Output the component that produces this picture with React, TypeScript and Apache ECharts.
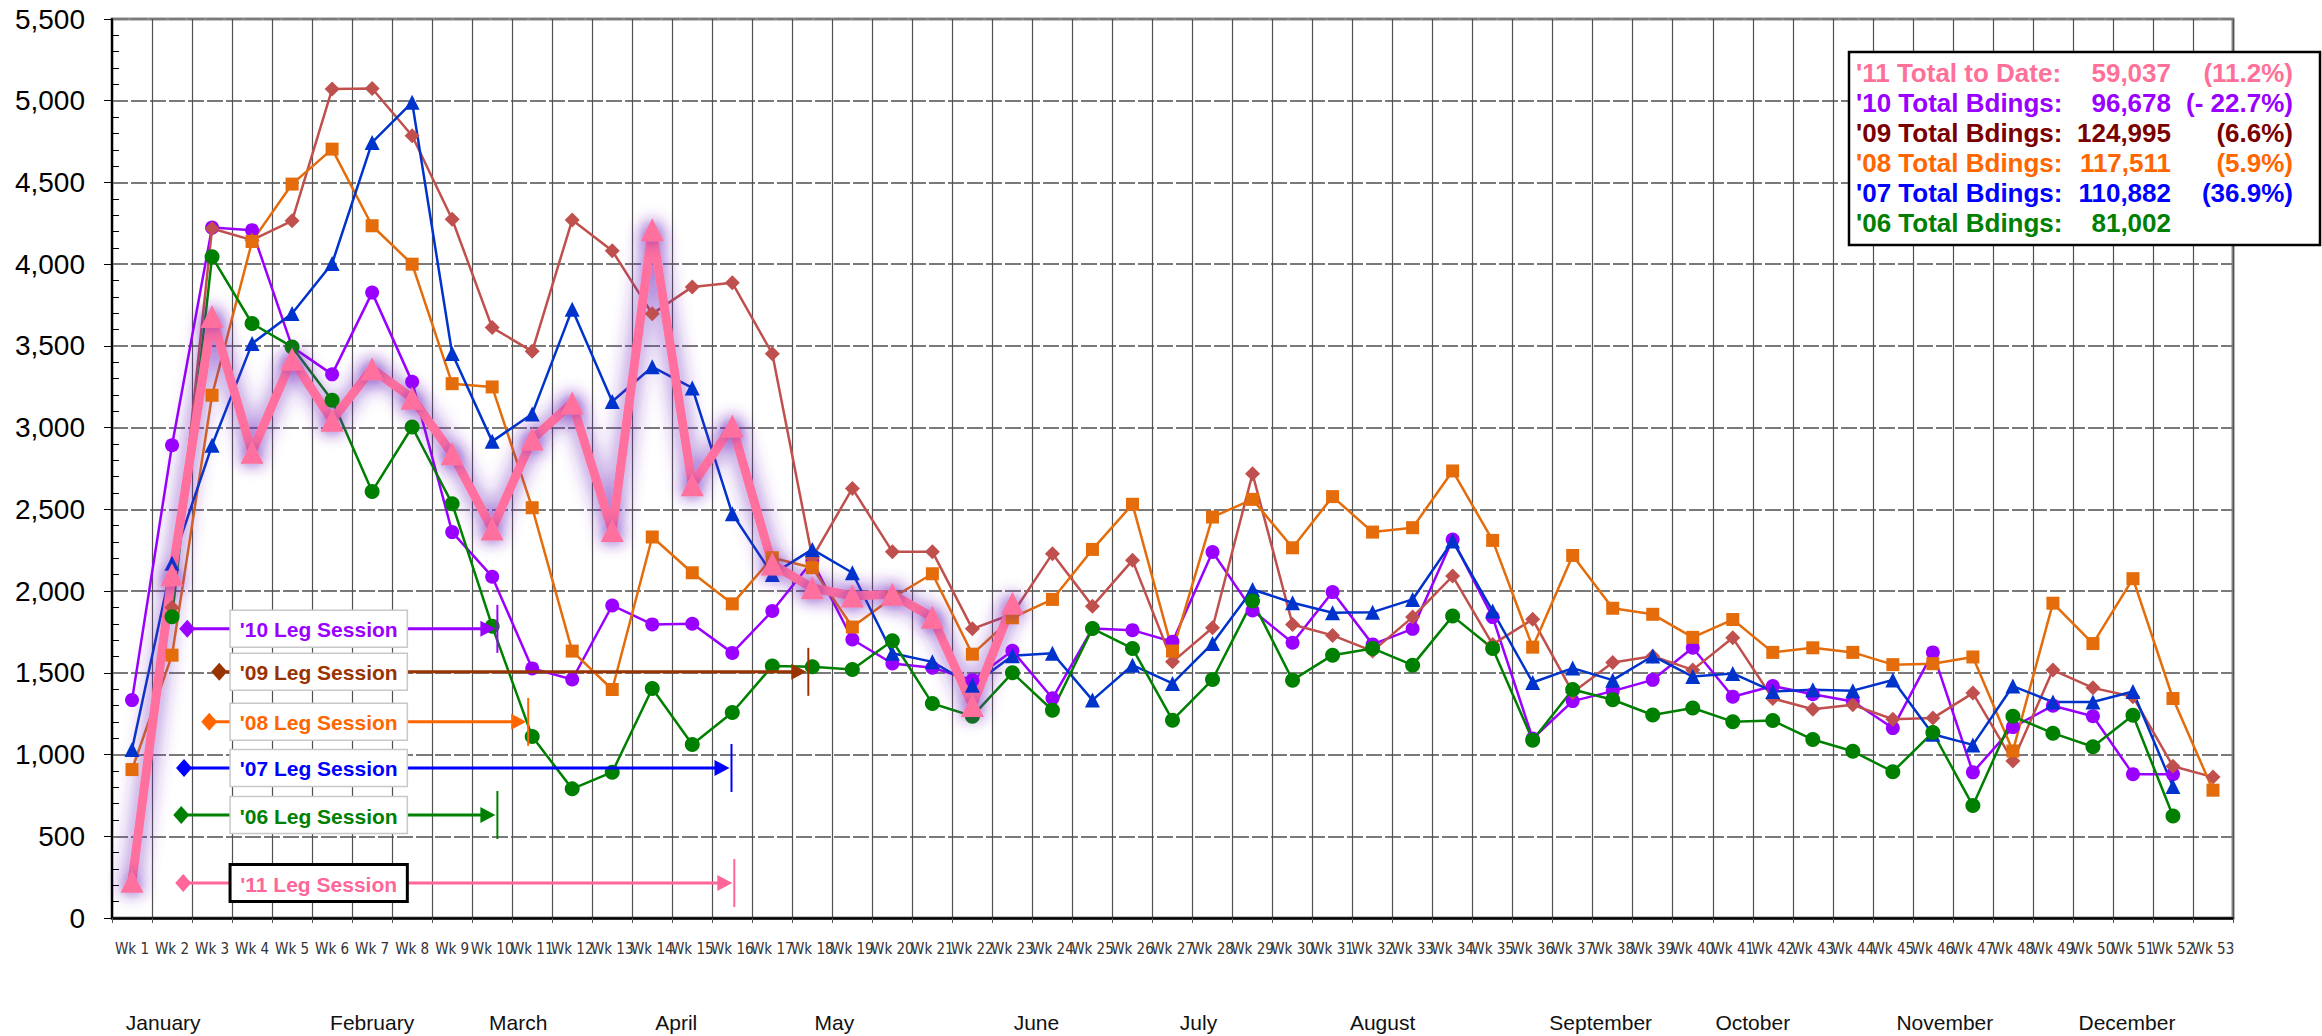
import React, { useEffect, useRef } from "react";
import * as echarts from "echarts";

const weeks: string[] = Array.from({ length: 53 }, (_, i) => `Wk ${i + 1}`);

const s11 = [225, 2100, 3680, 2850, 3420, 3045, 3360, 3180, 2840, 2380, 2930, 3150, 2370, 4210, 2650, 3010, 2165, 2020, 1970, 1980, 1840, 1300, 1925,
  null, null, null, null, null, null, null, null, null, null, null, null, null, null, null, null, null, null, null, null, null, null, null, null, null, null, null, null, null, null];
const s10 = [1333, 2892, 4224, 4208, 3494, 3326, 3826, 3280, 2361, 2088, 1527, 1459, 1912, 1796, 1800, 1622, 1878, 2184, 1704, 1557, 1531, 1455, 1635, 1344, 1771, 1761, 1690, 2239, 1882, 1684, 1994, 1674, 1769, 2316, 1841, 1098, 1327, 1388, 1457, 1653, 1354, 1419, 1369, 1325, 1162, 1625, 891, 1168, 1299, 1234, 880, 880, null];
const s09 = [null, 1900, 4218, 4147, 4265, 5071, 5075, 4786, 4275, 3612, 3467, 4271, 4082, 3696, 3861, 3886, 3452, 2204, 2628, 2241, 2241, 1769, 1860, 2229, 1908, 2188, 1567, 1776, 2718, 1796, 1729, 1633, 1841, 2092, 1674, 1827, 1380, 1563, 1602, 1518, 1714, 1343, 1277, 1304, 1216, 1223, 1376, 961, 1517, 1408, 1354, 928, 862];
const s08 = [908, 1608, 3198, 4139, 4490, 4704, 4235, 4000, 3269, 3249, 2510, 1633, 1398, 2331, 2112, 1922, 2204, 2143, 1780, 1959, 2106, 1614, 1837, 1949, 2255, 2531, 1633, 2453, 2561, 2265, 2578, 2361, 2388, 2735, 2310, 1657, 2218, 1895, 1858, 1717, 1826, 1625, 1653, 1625, 1550, 1556, 1597, 1022, 1926, 1679, 2076, 1343, 782];
const s07 = [1031, 2170, 2892, 3514, 3698, 4004, 4745, 4990, 3453, 2916, 3084, 3725, 3160, 3372, 3243, 2473, 2102, 2255, 2112, 1620, 1567, 1424, 1605, 1620, 1333, 1547, 1435, 1680, 2010, 1929, 1867, 1871, 1949, 2306, 1878, 1441, 1529, 1455, 1603, 1477, 1496, 1386, 1397, 1391, 1456, 1124, 1059, 1419, 1321, 1321, 1386, 804, null];
const s06 = [null, 1843, 4045, 3637, 3494, 3167, 2610, 3004, 2535, 1785, 1110, 790, 892, 1404, 1061, 1257, 1541, 1537, 1520, 1696, 1312, 1235, 1500, 1271, 1771, 1649, 1210, 1459, 1939, 1455, 1608, 1649, 1547, 1847, 1649, 1088, 1398, 1335, 1242, 1285, 1201, 1208, 1092, 1020, 895, 1135, 688, 1234, 1131, 1048, 1240, 624, null];

const months = ["January", "February", "March", "April", "May", "June", "July", "August", "September", "October", "November", "December"];
const monthWeekPos = [1.78, 7.0, 10.65, 14.6, 18.55, 23.6, 27.65, 32.25, 37.7, 41.5, 46.3, 50.85];

const totalLabels = ["'11 Total to Date:", "'10 Total Bdings:", "'09 Total Bdings:", "'08 Total Bdings:", "'07 Total Bdings:", "'06 Total Bdings:"];
const totalValues = ["59,037", "96,678", "124,995", "117,511", "110,882", "81,002"];
const totalPcts = ["(11.2%)", "(- 22.7%)", "(6.6%)", "(5.9%)", "(36.9%)", ""];
const totalColors = ["#FF7099", "#9900FF", "#7A0000", "#FF6600", "#0000FF", "#007F00"];

const sessionLabels = ["'10 Leg Session", "'09 Leg Session", "'08 Leg Session", "'07 Leg Session", "'06 Leg Session", "'11 Leg Session"];
const sessionColors = ["#9900FF", "#993300", "#FF6600", "#0000FF", "#008000", "#FF6699"];
const sessionY = [1769, 1506, 1200, 918, 630, 214];
const sessionStart = [2.38, 3.18, 2.93, 2.3, 2.23, 2.28];
const sessionEnd = [10.13, 17.9, 10.9, 15.98, 10.13, 16.05];

const FONT = "'Liberation Sans', Arial, Helvetica, sans-serif";
const NARROW = "'Liberation Sans Narrow', 'Arial Narrow', 'DejaVu Sans Condensed', sans-serif";

export default function App() {
  const ref = useRef<HTMLDivElement>(null);
  useEffect(() => {
    const chart = echarts.init(ref.current!, null, { renderer: "svg" });
    const mk = (name: string, data: any[], color: string, symbol: string, size: number, width: number, extra: any = {}) => ({
      name,
      type: "line",
      data,
      symbol,
      symbolSize: size,
      showSymbol: true,
      connectNulls: false,
      lineStyle: { color, width, ...(extra.lineStyle || {}) },
      itemStyle: { color, ...(extra.itemStyle || {}) },
      emphasis: { disabled: true },
      silent: true,
    });
    chart.setOption({
      animation: false,
      backgroundColor: "#ffffff",
      grid: { left: 112, right: 89, top: 19, bottom: 118, show: true, borderColor: "#8a8a8a", borderWidth: 3, backgroundColor: "#ffffff" },
      xAxis: {
        type: "category",
        data: weeks,
        boundaryGap: true,
        axisLine: { lineStyle: { color: "#000", width: 2.5 } },
        axisTick: { show: true, interval: 0, length: 5, lineStyle: { color: "#555" } },
        axisLabel: { interval: 0, fontSize: 15, color: "#333", fontFamily: NARROW, margin: 23 },
        splitLine: { show: true, interval: 0, lineStyle: { color: "#505050", width: 1.2 } },
      },
      yAxis: [
        {
          type: "value",
          min: 0,
          max: 5500,
          interval: 500,
          axisLine: { show: true, lineStyle: { color: "#000", width: 2 } },
          axisTick: { show: true, length: 8, lineStyle: { color: "#000" } },
          axisLabel: {
            fontSize: 28,
            color: "#000",
            fontFamily: FONT,
            margin: 27,
            formatter: (v: number) => v.toLocaleString("en-US"),
          },
          splitLine: { show: true, lineStyle: { color: "#7a7a7a", width: 1.8, type: [16, 3] } },
        },
        {
          type: "value",
          min: 0,
          max: 5500,
          interval: 500,
          position: "left",
          axisLine: { show: false },
          axisTick: { show: false, inside: true },
          axisLabel: { show: false },
          splitLine: { show: false },
          minorTick: { show: true, splitNumber: 5, length: 7, lineStyle: { color: "#000" } },
        },
      ],
      series: [
        mk("'10", s10, "#9900FF", "circle", 14, 2.5),
        mk("'09", s09, "#C0504D", "diamond", 15, 2.5),
        mk("'08", s08, "#E46C0A", "rect", 13, 2.5),
        mk("'07", s07, "#0033CC", "triangle", 15, 2.5),
        mk("'06", s06, "#008000", "circle", 15, 2.5),
        mk("'11", s11, "#FF6F9E", "triangle", 23, 9, {
          lineStyle: { shadowBlur: 20, shadowColor: "rgba(110,40,190,0.95)" },
          itemStyle: { shadowBlur: 16, shadowColor: "rgba(110,40,190,0.9)" },
        }),
      ],
    });

    const px = (wk: number, v: number) => {
      const a = chart.convertToPixel({ xAxisIndex: 0, yAxisIndex: 0 }, [0, v]) as number[];
      const b = chart.convertToPixel({ xAxisIndex: 0, yAxisIndex: 0 }, [1, v]) as number[];
      return [a[0] + (wk - 1) * (b[0] - a[0]), a[1]];
    };

    const els: any[] = [];
    months.forEach((m, i) => {
      const [x] = px(monthWeekPos[i], 0);
      els.push({
        type: "text",
        x,
        y: 1022,
        z: 50,
        style: { text: m, fill: "#111", fontSize: 21, fontFamily: FONT, textAlign: "center", textVerticalAlign: "middle" },
      });
    });

    sessionLabels.forEach((lab, i) => {
      const c = sessionColors[i];
      const [x0, y] = px(sessionStart[i], sessionY[i]);
      const [x1] = px(sessionEnd[i], sessionY[i]);
      const tip = x1 - 2;
      els.push({ type: "line", z: 60, shape: { x1: x0, y1: y, x2: tip - 10, y2: y }, style: { stroke: c, lineWidth: 3 } });
      els.push({ type: "polygon", z: 61, shape: { points: [[tip, y], [tip - 15, y - 8], [tip - 15, y + 8]] }, style: { fill: c } });
      els.push({ type: "polygon", z: 61, shape: { points: [[x0 - 8, y], [x0, y - 9], [x0 + 8, y], [x0, y + 9]] }, style: { fill: c } });
      els.push({ type: "line", z: 61, shape: { x1: x1, y1: y - 24, x2: x1, y2: y + 24 }, style: { stroke: c, lineWidth: 2 } });
      const [bx0] = px(3.45, 0);
      const [bx1] = px(7.88, 0);
      const isLast = i === sessionLabels.length - 1;
      els.push({
        type: "rect",
        z: 62,
        shape: { x: bx0, y: y - 18.5, width: bx1 - bx0, height: 37 },
        style: { fill: "#fff", stroke: isLast ? "#000" : "#c8c8c8", lineWidth: isLast ? 3 : 1.5 },
      });
      els.push({
        type: "text",
        z: 63,
        x: (bx0 + bx1) / 2,
        y: y + 1,
        style: { text: lab, fill: c, fontSize: 21, fontWeight: "bold", fontFamily: FONT, textAlign: "center", textVerticalAlign: "middle" },
      });
    });

    els.push({
      type: "rect",
      z: 70,
      shape: { x: 1849, y: 52, width: 471, height: 193 },
      style: { fill: "#fff", stroke: "#000", lineWidth: 2.5 },
    });
    totalLabels.forEach((lab, i) => {
      const y = 73 + i * 30;
      const st = { fill: totalColors[i], fontSize: 26, fontWeight: "bold", fontFamily: FONT, textVerticalAlign: "middle" };
      els.push({ type: "text", z: 71, x: 1856, y, style: { ...st, text: lab, textAlign: "left" } });
      els.push({ type: "text", z: 71, x: 2171, y, style: { ...st, text: totalValues[i], textAlign: "right" } });
      if (totalPcts[i]) els.push({ type: "text", z: 71, x: 2293, y, style: { ...st, text: totalPcts[i], textAlign: "right" } });
    });

    chart.setOption({ graphic: els });

    return () => chart.dispose();
  }, []);
  return <div ref={ref} style={{ position: "fixed", left: 0, top: 0, width: 2322, height: 1036 }} />;
}
